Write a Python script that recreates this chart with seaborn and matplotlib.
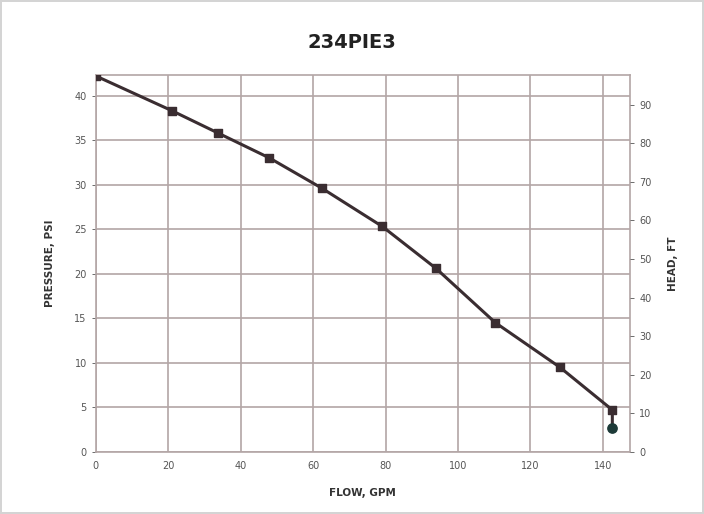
import numpy as np
import pandas as pd
import matplotlib
matplotlib.use("Agg")
import matplotlib.pyplot as plt
import seaborn as sns

# pump curve
flow_gpm = [0, 21, 33.7, 47.9, 62.4, 79.1, 93.9, 110.3, 128.1, 142.6]
pressure_psi = [42.2, 38.3, 35.8, 33.0, 29.6, 25.3, 20.6, 14.5, 9.5, 4.7]
end_flow = [142.6]
end_pressure = [2.7]

x_ticks = [0, 20, 40, 60, 80, 100, 120, 140]
left_ticks = [0, 5, 10, 15, 20, 25, 30, 35, 40]
left_labels = ['0', '5', '10', '15', '20', '25', '30', '35', '40']
right_ticks = [0, 10, 20, 30, 40, 50, 60, 70, 80, 90]
PSI_TO_FT = 2.31

sns.set_style("white")
plt.rcParams['font.family'] = ['DejaVu Sans']

df = pd.DataFrame({'flow': flow_gpm + end_flow, 'pressure': pressure_psi + end_pressure})

fig = plt.figure(figsize=(7.04, 5.14), dpi=100)
fig.patch.set_facecolor('white')
fig.patch.set_edgecolor('#d4d4d4')
fig.patch.set_linewidth(1.5)
ax = fig.add_axes([0.136, 0.121, 0.759, 0.733])

grid_col = '#b3a6a6'
line_col = '#3a2d31'

sns.lineplot(data=df, x='flow', y='pressure', ax=ax, color=line_col, linewidth=2.2,
             sort=False, estimator=None, zorder=3)
ax.scatter(flow_gpm, pressure_psi, marker='s', s=38, color=line_col, zorder=4)
ax.scatter(end_flow, end_pressure, marker='o', s=45, color='#1d3a38', zorder=4)

ax.set_xlim(0, 147.5)
ax.set_ylim(0, 42.3)
ax.set_xticks(x_ticks)
ax.set_yticks(left_ticks)
ax.set_yticklabels(left_labels)
ax.grid(True, color=grid_col, linewidth=1.2)
for s in ax.spines.values():
    s.set_color(grid_col)
    s.set_linewidth(1.2)
ax.tick_params(axis='both', labelsize=7, colors='#555555', length=3, width=0.6)
ax.set_xlabel('FLOW, GPM', fontsize=7.5, fontweight='bold', color='#333333', labelpad=12)
ax.set_ylabel('PRESSURE, PSI', fontsize=7.5, fontweight='bold', color='#333333', labelpad=14)

ax2 = ax.twinx()
ax2.set_ylim(0, 42.3 * PSI_TO_FT)
ax2.set_yticks(right_ticks)
ax2.tick_params(axis='y', labelsize=7, colors='#555555', length=3, width=0.6)
for s in ax2.spines.values():
    s.set_visible(False)
ax2.set_ylabel('HEAD, FT', fontsize=7.5, fontweight='bold', color='#333333',
               rotation=90, labelpad=12)

fig.text(0.5, 0.918, '234PIE3', ha='center', va='center', fontsize=14,
         fontweight='bold', color='#222222')

fig.savefig('out.png', dpi=100, facecolor=fig.get_facecolor(), edgecolor=fig.get_edgecolor())
